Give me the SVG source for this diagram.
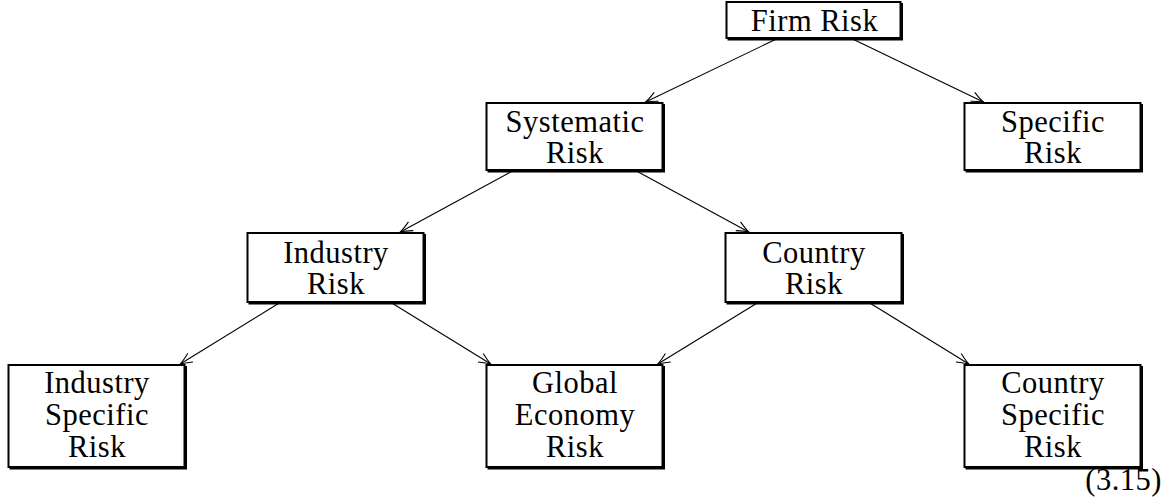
<svg xmlns="http://www.w3.org/2000/svg" width="1164" height="504" viewBox="0 0 1164 504">
  <style>
    .box { fill: #fff; stroke: #000; stroke-width: 2; }
    .shadow { fill: none; stroke: #000; stroke-width: 2; }
    .lbl { font-family: "Liberation Serif", "Times New Roman", serif; font-size: 30.5px; letter-spacing: 0.5px; fill: #000; text-anchor: middle; }
    .edge { fill: none; stroke: #000; stroke-width: 1.1; marker-end: url(#head); }
  </style>
  <defs>
    <!-- open, curved TeX-style arrowhead -->
    <marker id="head" markerUnits="userSpaceOnUse" markerWidth="16" markerHeight="14" viewBox="-14 -7 16 14" refX="0" refY="0" orient="auto" overflow="visible">
      <path d="M-12,-5 Q-4.5,-1.3 0,0 Q-4.5,1.3 -12,5" fill="none" stroke="#000" stroke-width="1.1"/>
    </marker>
  </defs>

  <rect width="1164" height="504" fill="#fff"/>

  <!-- connectors: centre to centre, clipped at the frames -->
  <g id="connectors">
    <line class="edge" x1="775.4" y1="39.5" x2="645.6" y2="102"/>
    <line class="edge" x1="853.6" y1="39.5" x2="983.4" y2="102"/>
    <line class="edge" x1="511.6" y1="171.5" x2="400.3" y2="232"/>
    <line class="edge" x1="637.4" y1="171.5" x2="748.7" y2="232"/>
    <line class="edge" x1="278.4" y1="303.5" x2="180.2" y2="364"/>
    <line class="edge" x1="392.6" y1="303.5" x2="490.8" y2="364"/>
    <line class="edge" x1="756.4" y1="303.5" x2="657.8" y2="364"/>
    <line class="edge" x1="870.6" y1="303.5" x2="968.8" y2="364"/>
  </g>

  <g id="firm-risk">
    <rect class="box" x="726.5" y="2" width="174" height="36"/>
    <path class="shadow" d="M902,3 V39.5 H727.5"/>
    <text class="lbl" x="814.5" y="31">Firm Risk</text>
  </g>

  <g id="systematic-risk">
    <rect class="box" x="486.5" y="103" width="176" height="67"/>
    <path class="shadow" d="M664,104 V171.5 H487.5"/>
    <text class="lbl" x="575" y="132">Systematic</text>
    <text class="lbl" x="575" y="163">Risk</text>
  </g>

  <g id="specific-risk">
    <rect class="box" x="964.5" y="103" width="176" height="67"/>
    <path class="shadow" d="M1142,104 V171.5 H965.5"/>
    <text class="lbl" x="1053" y="132">Specific</text>
    <text class="lbl" x="1053" y="163">Risk</text>
  </g>

  <g id="industry-risk">
    <rect class="box" x="247.5" y="233" width="176" height="69"/>
    <path class="shadow" d="M425,234 V303.5 H248.5"/>
    <text class="lbl" x="336" y="263">Industry</text>
    <text class="lbl" x="336" y="294">Risk</text>
  </g>

  <g id="country-risk">
    <rect class="box" x="725.5" y="233" width="176" height="69"/>
    <path class="shadow" d="M903,234 V303.5 H726.5"/>
    <text class="lbl" x="814" y="263">Country</text>
    <text class="lbl" x="814" y="294">Risk</text>
  </g>

  <g id="industry-specific-risk">
    <rect class="box" x="8.5" y="365" width="176" height="102"/>
    <path class="shadow" d="M186,366 V468.5 H9.5"/>
    <text class="lbl" x="97" y="393">Industry</text>
    <text class="lbl" x="97" y="425">Specific</text>
    <text class="lbl" x="97" y="457">Risk</text>
  </g>

  <g id="global-economy-risk">
    <rect class="box" x="486.5" y="365" width="176" height="102"/>
    <path class="shadow" d="M664,366 V468.5 H487.5"/>
    <text class="lbl" x="575" y="393">Global</text>
    <text class="lbl" x="575" y="425">Economy</text>
    <text class="lbl" x="575" y="457">Risk</text>
  </g>

  <g id="country-specific-risk">
    <rect class="box" x="964.5" y="365" width="176" height="102"/>
    <path class="shadow" d="M1142,366 V468.5 H965.5"/>
    <text class="lbl" x="1053" y="393">Country</text>
    <text class="lbl" x="1053" y="425">Specific</text>
    <text class="lbl" x="1053" y="457">Risk</text>
  </g>

  <text class="lbl" x="1162" y="490" style="text-anchor:end">(3.15)</text>
</svg>
